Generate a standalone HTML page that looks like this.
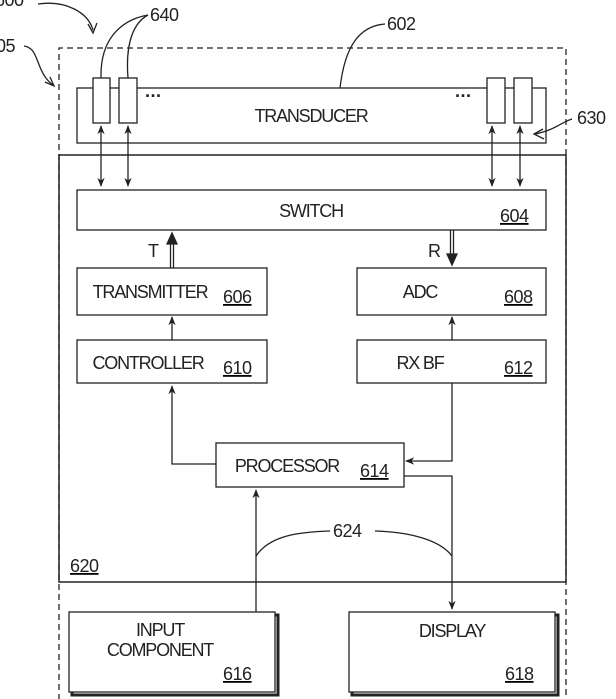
<!DOCTYPE html>
<html><head><style>
body{margin:0;background:#fff;}
svg{display:block;font-family:"Liberation Sans",sans-serif;}
text{fill:#222;}
</style></head><body>
<svg width="616" height="699" viewBox="0 0 616 699" xmlns="http://www.w3.org/2000/svg">
<defs>
<marker id="a" viewBox="0 0 10 10" refX="9" refY="5" markerWidth="7" markerHeight="7" orient="auto-start-reverse"><path d="M0,1 L10,5 L0,9 L3,5 z" fill="#222"/></marker>
</defs>
<g stroke="#222" stroke-width="1.3" fill="none">
<path d="M59,700 V48 H566 V700" stroke-dasharray="6,4"/>
<rect x="77" y="88" width="469" height="55" fill="#fff"/>
<rect x="93" y="78" width="17" height="45" fill="#fff"/>
<rect x="119" y="78" width="18" height="45" fill="#fff"/>
<rect x="487" y="78" width="18" height="45" fill="#fff"/>
<rect x="514" y="78" width="18" height="45" fill="#fff"/>
<rect x="59" y="155" width="507" height="427" stroke-width="1.5"/>
<rect x="77" y="190" width="469" height="40"/>
<rect x="77" y="268" width="190" height="47"/>
<rect x="357" y="268" width="189" height="47"/>
<rect x="77" y="340" width="190" height="43"/>
<rect x="357" y="340" width="189" height="43"/>
<rect x="216" y="443" width="188" height="44"/>
<line x1="101" y1="126" x2="101" y2="186" marker-start="url(#a)" marker-end="url(#a)"/>
<line x1="128" y1="126" x2="128" y2="186" marker-start="url(#a)" marker-end="url(#a)"/>
<line x1="492" y1="126" x2="492" y2="186" marker-start="url(#a)" marker-end="url(#a)"/>
<line x1="520" y1="126" x2="520" y2="186" marker-start="url(#a)" marker-end="url(#a)"/>
<line x1="170.5" y1="268" x2="170.5" y2="242"/><line x1="173.5" y1="268" x2="173.5" y2="242"/>
<path d="M167,244 L172,233 L177,244 z" fill="#222"/>
<line x1="450.5" y1="230" x2="450.5" y2="256"/><line x1="453.5" y1="230" x2="453.5" y2="256"/>
<path d="M447,254 L452,265 L457,254 z" fill="#222"/>
<line x1="172" y1="340" x2="172" y2="317" marker-end="url(#a)"/>
<line x1="452" y1="340" x2="452" y2="317" marker-end="url(#a)"/>
<polyline points="216,464 172,464 172,386" marker-end="url(#a)"/>
<polyline points="452,383 452,461 406,461" marker-end="url(#a)"/>
<polyline points="404,476 452,476 452,609" marker-end="url(#a)"/>
<line x1="256" y1="612" x2="256" y2="490" marker-end="url(#a)"/>
<path d="M256,556 C270,535 300,532 330,531"/>
<path d="M375,531 C410,532 440,540 452,556"/>
<rect x="72" y="615" width="206" height="80" stroke-width="3"/>
<rect x="69" y="612" width="206" height="80" fill="#fff"/>
<rect x="352" y="615" width="206" height="80" stroke-width="3"/>
<rect x="349" y="612" width="206" height="80" fill="#fff"/>
<path d="M38,4 C65,0 88,12 93,30"/>
<path d="M88,24 L93,33 L97,23"/>
<path d="M24,46 C40,48 35,72 53,85"/>
<path d="M45,82 L54,86 L50,77"/>
<path d="M101,78 C100,40 120,20 148,15"/>
<path d="M128,78 C125,40 135,22 148,15"/>
<path d="M340,88 C345,45 360,26 385,24"/>
<path d="M572,119 C562,122 555,130 535,134"/>
<path d="M543,129 L534,134 L544,139"/>
</g>
<g font-size="18" text-anchor="middle" letter-spacing="-1.2">
<text x="311" y="122">TRANSDUCER</text>
<text x="311" y="217">SWITCH</text>
<text x="150" y="298">TRANSMITTER</text>
<text x="420" y="298">ADC</text>
<text x="148" y="369">CONTROLLER</text>
<text x="420" y="369">RX BF</text>
<text x="287" y="472">PROCESSOR</text>
<text x="160" y="636">INPUT</text>
<text x="160" y="656">COMPONENT</text>
<text x="452" y="637">DISPLAY</text>
</g>
<g font-size="18" text-decoration="underline" letter-spacing="-0.5">
<text x="500" y="222">604</text>
<text x="223" y="303">606</text>
<text x="504" y="303">608</text>
<text x="223" y="374">610</text>
<text x="504" y="374">612</text>
<text x="360" y="477">614</text>
<text x="70" y="572">620</text>
<text x="223" y="680">616</text>
<text x="505" y="680">618</text>
</g>
<g font-size="18" letter-spacing="-0.5">
<text x="148" y="257">T</text>
<text x="428" y="257">R</text>
<text x="150" y="21">640</text>
<text x="387" y="30">602</text>
<text x="577" y="124">630</text>
<text x="-5" y="6">600</text>
<text x="-4" y="52">05</text>
<text x="333" y="537">624</text>
<text x="145" y="102" font-weight="bold">···</text>
<text x="455" y="102" font-weight="bold">···</text>
</g>
</svg>
</body></html>
